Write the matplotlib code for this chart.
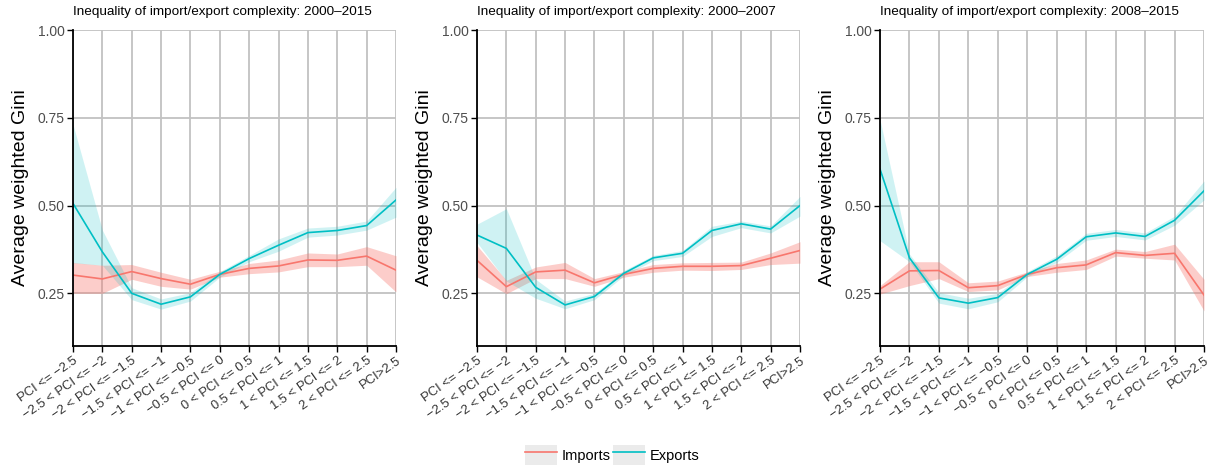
import matplotlib
matplotlib.use("Agg")
import matplotlib.pyplot as plt
import numpy as np
from matplotlib.lines import Line2D
from matplotlib.patches import Patch

plt.rcParams['font.family'] = ['Liberation Sans', 'DejaVu Sans']

categories = [
    "PCI <= \u22122.5", "\u22122.5 < PCI <= \u22122", "\u22122 < PCI <= \u22121.5",
    "\u22121.5 < PCI <= \u22121", "\u22121 < PCI <= \u22120.5", "\u22120.5 < PCI <= 0",
    "0 < PCI <= 0.5", "0.5 < PCI <= 1", "1 < PCI <= 1.5", "1.5 < PCI <= 2",
    "2 < PCI <= 2.5", "PCI>2.5",
]

titles = [
    "Inequality of import/export complexity: 2000\u20132015",
    "Inequality of import/export complexity: 2000\u20132007",
    "Inequality of import/export complexity: 2008\u20132015",
]

# 2000-2015
imp_all = [0.302, 0.291, 0.312, 0.292, 0.276, 0.304, 0.321, 0.328, 0.345, 0.344, 0.356, 0.316]
imp_all_lo = [0.250, 0.250, 0.290, 0.270, 0.262, 0.296, 0.306, 0.311, 0.326, 0.326, 0.330, 0.254]
imp_all_hi = [0.338, 0.330, 0.332, 0.310, 0.290, 0.313, 0.335, 0.345, 0.365, 0.362, 0.383, 0.357]
exp_all = [0.506, 0.368, 0.250, 0.219, 0.240, 0.304, 0.349, 0.387, 0.423, 0.429, 0.443, 0.516]
exp_all_lo = [0.337, 0.330, 0.232, 0.205, 0.228, 0.296, 0.340, 0.370, 0.410, 0.416, 0.430, 0.467]
exp_all_hi = [0.731, 0.430, 0.266, 0.234, 0.252, 0.312, 0.358, 0.405, 0.436, 0.441, 0.456, 0.552]

# 2000-2007
imp_early = [0.344, 0.269, 0.311, 0.316, 0.280, 0.304, 0.321, 0.327, 0.327, 0.329, 0.350, 0.372]
imp_early_lo = [0.297, 0.249, 0.292, 0.292, 0.270, 0.296, 0.310, 0.316, 0.315, 0.318, 0.332, 0.336]
imp_early_hi = [0.386, 0.287, 0.325, 0.338, 0.292, 0.312, 0.332, 0.337, 0.338, 0.339, 0.365, 0.397]
exp_early = [0.416, 0.378, 0.267, 0.217, 0.241, 0.307, 0.351, 0.364, 0.429, 0.448, 0.433, 0.500]
exp_early_lo = [0.395, 0.285, 0.236, 0.206, 0.232, 0.300, 0.343, 0.355, 0.412, 0.437, 0.422, 0.470]
exp_early_hi = [0.447, 0.491, 0.290, 0.228, 0.250, 0.315, 0.358, 0.372, 0.441, 0.456, 0.442, 0.526]

# 2008-2015
imp_late = [0.262, 0.314, 0.315, 0.266, 0.272, 0.304, 0.323, 0.331, 0.366, 0.358, 0.364, 0.245]
imp_late_lo = [0.248, 0.272, 0.292, 0.255, 0.260, 0.298, 0.310, 0.318, 0.356, 0.350, 0.345, 0.200]
imp_late_hi = [0.272, 0.340, 0.340, 0.280, 0.285, 0.311, 0.335, 0.345, 0.376, 0.369, 0.390, 0.290]
exp_late = [0.604, 0.351, 0.237, 0.222, 0.238, 0.304, 0.347, 0.411, 0.422, 0.412, 0.458, 0.542]
exp_late_lo = [0.400, 0.340, 0.222, 0.206, 0.226, 0.297, 0.338, 0.401, 0.412, 0.402, 0.444, 0.516]
exp_late_hi = [0.745, 0.362, 0.252, 0.236, 0.250, 0.312, 0.357, 0.421, 0.432, 0.422, 0.470, 0.570]

panels = [
    (imp_all, imp_all_lo, imp_all_hi, exp_all, exp_all_lo, exp_all_hi),
    (imp_early, imp_early_lo, imp_early_hi, exp_early, exp_early_lo, exp_early_hi),
    (imp_late, imp_late_lo, imp_late_hi, exp_late, exp_late_lo, exp_late_hi),
]

y_ticks = [0.25, 0.50, 0.75, 1.00]
RED = "#F8766D"
TEAL = "#00BFC4"

W, H = 1209, 468
fig = plt.figure(figsize=(W / 100, H / 100), dpi=100)

lefts = [73, 477, 880]
rights = [396, 800, 1204]
top_px, bottom_px = 30, 346

x = np.arange(len(categories))
for i, (left, right) in enumerate(zip(lefts, rights)):
    ax = fig.add_axes([left / W, 1 - bottom_px / H, (right - left) / W, (bottom_px - top_px) / H])
    imp, imp_lo, imp_hi, exp, exp_lo, exp_hi = panels[i]
    ax.fill_between(x, imp_lo, imp_hi, color=RED, alpha=0.36, linewidth=0, zorder=2)
    ax.fill_between(x, exp_lo, exp_hi, color=TEAL, alpha=0.19, linewidth=0, zorder=2)
    ax.plot(x, imp, color=RED, lw=1.2, zorder=3)
    ax.plot(x, exp, color=TEAL, lw=1.2, zorder=3)

    ax.set_xlim(0, len(categories) - 1)
    ax.set_ylim(0.1, 1.0)
    ax.set_yticks(y_ticks)
    ax.set_yticklabels([f"{v:.2f}" for v in y_ticks], color="#4d4d4d", fontsize=10)
    ax.set_xticks(x)
    ax.set_xticklabels(categories, rotation=35, ha="right", rotation_mode="anchor",
                       color="#333333", fontsize=9.4)
    ax.tick_params(axis="both", length=4, width=1.0, color="black", pad=2)
    ax.grid(True, color="#c2c2c2", lw=1.3, zorder=0)
    ax.set_axisbelow(True)
    for side in ("top", "right"):
        ax.spines[side].set_visible(False)
    for side in ("left", "bottom"):
        ax.spines[side].set_color("black")
        ax.spines[side].set_linewidth(1.3)
        ax.spines[side].set_zorder(4)
    ax.set_ylabel("Average weighted Gini", fontsize=14, labelpad=6)
    fig.text(left / W, 1 - 12 / H, titles[i], fontsize=9.7, ha="left", va="center")

handles = [
    (Patch(facecolor="#ebebeb", edgecolor="none"), Line2D([], [], color=RED, lw=1.2)),
    (Patch(facecolor="#ebebeb", edgecolor="none"), Line2D([], [], color=TEAL, lw=1.2)),
]
fig.legend(handles, ["Imports", "Exports"], loc="center", bbox_to_anchor=(612 / W, 1 - 455 / H),
           ncol=2, frameon=False, fontsize=10.5, handlelength=2.2, handleheight=1.7,
           columnspacing=0.2, handletextpad=0.3)

fig.savefig("out.png", dpi=100)
